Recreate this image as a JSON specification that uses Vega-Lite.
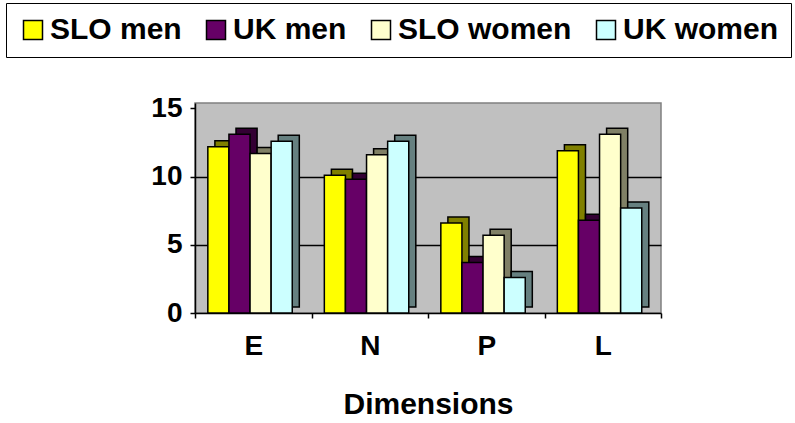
{
  "$schema": "https://vega.github.io/schema/vega-lite/v6.json",
  "width": 466,
  "height": 210,
  "autosize": {"type": "none"},
  "padding": {"left": 195, "top": 103, "right": 134, "bottom": 110},
  "background": "white",
  "config": {
    "font": "Liberation Sans",
    "view": {"fill": "#c0c0c0", "stroke": "#808080", "strokeWidth": 1.5},
    "axis": {
      "labelFont": "Liberation Sans",
      "labelFontWeight": "bold",
      "labelColor": "black",
      "titleFont": "Liberation Sans",
      "titleFontWeight": "bold",
      "titleColor": "black",
      "domainColor": "black",
      "domainWidth": 1.5,
      "tickColor": "black",
      "tickWidth": 1.5,
      "tickSize": 5
    }
  },
  "data": {
    "values": [
      {"dim": "E", "group": "SLO men", "value": 12.2},
      {"dim": "E", "group": "UK men", "value": 13.1},
      {"dim": "E", "group": "SLO women", "value": 11.7},
      {"dim": "E", "group": "UK women", "value": 12.6},
      {"dim": "N", "group": "SLO men", "value": 10.1},
      {"dim": "N", "group": "UK men", "value": 9.8},
      {"dim": "N", "group": "SLO women", "value": 11.6},
      {"dim": "N", "group": "UK women", "value": 12.6},
      {"dim": "P", "group": "SLO men", "value": 6.6},
      {"dim": "P", "group": "UK men", "value": 3.7},
      {"dim": "P", "group": "SLO women", "value": 5.7},
      {"dim": "P", "group": "UK women", "value": 2.6},
      {"dim": "L", "group": "SLO men", "value": 11.9},
      {"dim": "L", "group": "UK men", "value": 6.8},
      {"dim": "L", "group": "SLO women", "value": 13.1},
      {"dim": "L", "group": "UK women", "value": 7.7}
    ]
  },
  "encoding": {
    "x": {
      "field": "dim",
      "type": "nominal",
      "sort": ["E", "N", "P", "L"],
      "scale": {"paddingInner": 0, "paddingOuter": 0},
      "axis": {
        "title": "Dimensions",
        "labelAngle": 0,
        "labelFontSize": 28,
        "labelPadding": 14,
        "titleFontSize": 30,
        "titlePadding": 29,
        "tickBand": "extent",
        "grid": false
      }
    }
  },
  "layer": [
    {
      "mark": {"type": "bar", "stroke": "black", "strokeWidth": 1.5},
      "encoding": {
        "xOffset": {
          "field": "group",
          "type": "nominal",
          "sort": ["SLO men", "UK men", "SLO women", "UK women"],
          "scale": {"paddingInner": 0, "paddingOuter": 0.76, "align": 0.62}
        },
        "y": {
          "field": "value",
          "type": "quantitative",
          "scale": {"domain": [-0.44, 14.96], "nice": false},
          "axis": null
        },
        "color": {
          "field": "group",
          "type": "nominal",
          "sort": ["SLO men", "UK men", "SLO women", "UK women"],
          "scale": {"range": ["#808000", "#330033", "#808066", "#668080"]},
          "legend": null
        }
      }
    },
    {
      "mark": {"type": "bar", "stroke": "black", "strokeWidth": 1.5},
      "encoding": {
        "xOffset": {
          "field": "group",
          "type": "nominal",
          "sort": ["SLO men", "UK men", "SLO women", "UK women"],
          "scale": {"paddingInner": 0, "paddingOuter": 0.76, "align": 0.4}
        },
        "y": {
          "field": "value",
          "type": "quantitative",
          "scale": {"domain": [0, 15.4], "nice": false},
          "axis": {
            "title": null,
            "values": [0, 5, 10, 15],
            "labelFontSize": 28,
            "labelPadding": 8,
            "grid": true,
            "gridColor": {"condition": {"test": "datum.value === 15 || datum.value === 0", "value": "transparent"}, "value": "black"},
            "gridWidth": 1.5
          }
        },
        "fill": {
          "field": "group",
          "type": "nominal",
          "sort": ["SLO men", "UK men", "SLO women", "UK women"],
          "scale": {"range": ["#ffff00", "#660066", "#ffffcc", "#ccffff"]},
          "legend": {
            "title": null,
            "orient": "none",
            "legendX": -189,
            "legendY": -100,
            "direction": "horizontal",
            "symbolType": "square",
            "symbolSize": 361,
            "symbolStrokeColor": "black",
            "symbolStrokeWidth": 1.5,
            "symbolOpacity": 1,
            "labelFont": "Liberation Sans",
            "labelFontWeight": "bold",
            "labelFontSize": 30,
            "labelColor": "black",
            "labelOffset": 2,
            "labelLimit": 400,
            "columnPadding": 19,
            "padding": 12,
            "strokeColor": "black"
          }
        }
      }
    }
  ],
  "resolve": {"scale": {"y": "independent", "xOffset": "independent", "color": "independent", "fill": "independent"}}
}
